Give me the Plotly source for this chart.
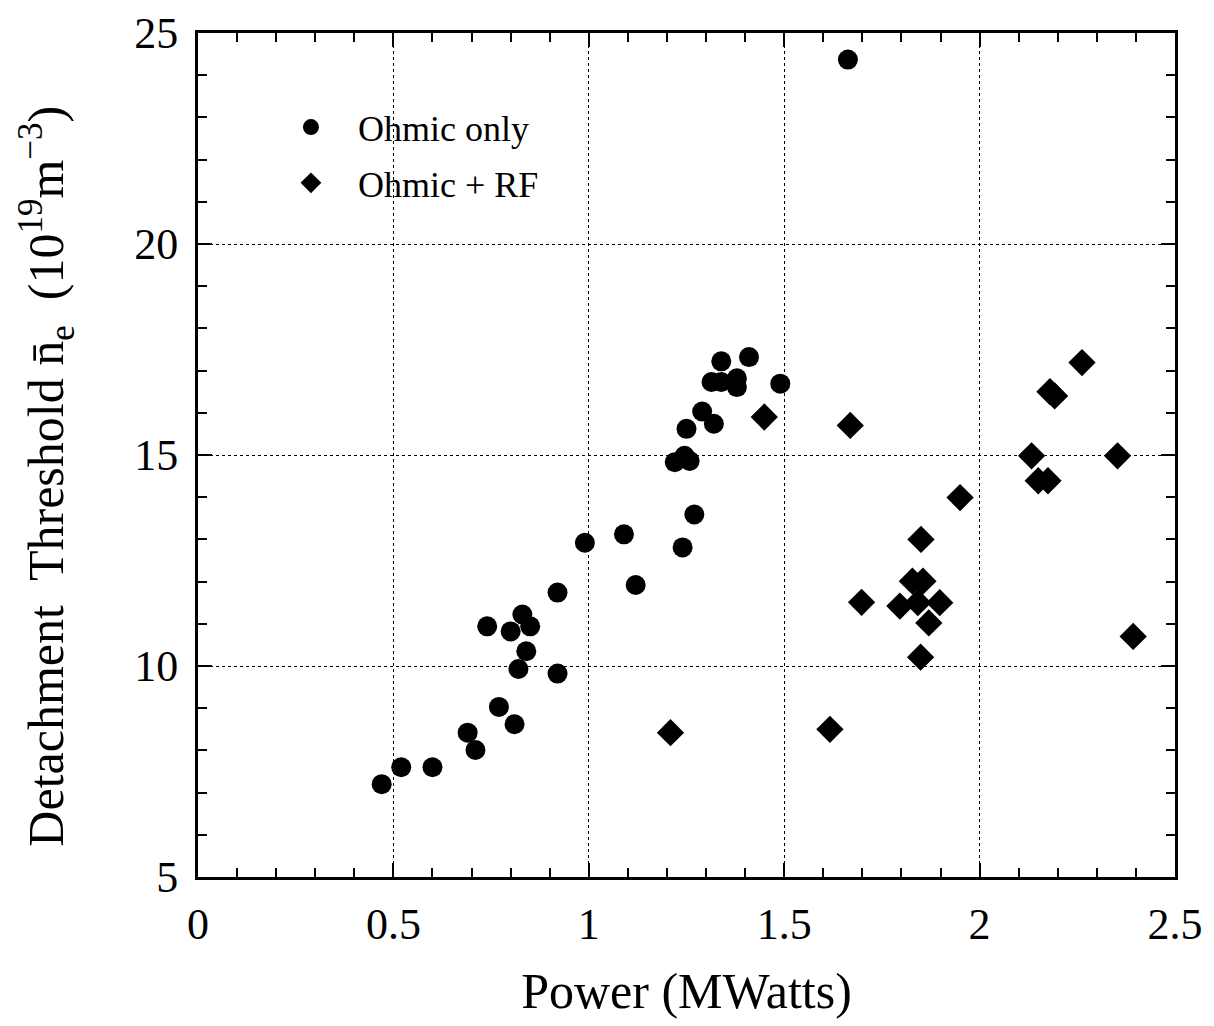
import plotly.graph_objects as go

# Ohmic only (circles)
ohmic_x = [0.47, 0.52, 0.60, 0.69, 0.71, 0.77, 0.81, 0.74, 0.80, 0.83, 0.85, 0.84,
           0.82, 0.92, 0.92, 0.99, 1.09, 1.12, 1.24, 1.27, 1.22, 1.245, 1.258, 1.25,
           1.29, 1.32, 1.314, 1.339, 1.339, 1.379, 1.379, 1.41, 1.49, 1.663]
ohmic_y = [7.20, 7.60, 7.60, 8.42, 8.01, 9.03, 8.62, 10.94, 10.82, 11.22, 10.94, 10.35,
           9.93, 9.82, 11.74, 12.92, 13.12, 11.92, 12.81, 13.59, 14.83, 14.98, 14.86, 15.62,
           16.03, 15.74, 16.73, 16.73, 17.22, 16.82, 16.61, 17.32, 16.69, 24.37]

# Ohmic + RF (diamonds)
rf_x = [1.209, 1.617, 1.449, 1.669, 1.698, 1.796, 1.828, 1.855, 1.842, 1.898, 1.870,
        1.849, 1.850, 1.950, 2.133, 2.150, 2.175, 2.180, 2.192, 2.262, 2.353, 2.393]
rf_y = [8.42, 8.50, 15.90, 15.70, 11.51, 11.42, 12.01, 12.01, 11.50, 11.50, 11.02,
        10.21, 13.00, 13.99, 14.98, 14.39, 14.39, 16.50, 16.40, 17.19, 14.98, 10.70]

x_ticks = [0, 0.5, 1, 1.5, 2, 2.5]
x_tick_labels = ["0", "0.5", "1", "1.5", "2", "2.5"]
y_ticks = [5, 10, 15, 20, 25]
y_tick_labels = ["5", "10", "15", "20", "25"]

x_title = "Power (MWatts)"
y_title = "Detachment  Threshold n\u0304<sub>e</sub>  (10<sup>19</sup>m<sup>\u22123</sup>)"

FONT = "Liberation Serif"

fig = go.Figure()
fig.add_trace(go.Scatter(
    x=ohmic_x, y=ohmic_y, mode="markers", name="Ohmic only", legendgroup="ohmic",
    marker=dict(symbol="circle", size=20, color="black", line=dict(width=0)),
))
fig.add_trace(go.Scatter(
    x=rf_x, y=rf_y, mode="markers", name="Ohmic + RF", legendgroup="rf",
    marker=dict(symbol="diamond", size=21, color="black", line=dict(width=0)),
))

axis_common = dict(
    showline=True, linecolor="black", linewidth=3, mirror="allticks",
    ticks="inside", ticklen=14, tickwidth=2, tickcolor="black",
    showgrid=True, gridcolor="black", gridwidth=1, griddash="dot",
    zeroline=False, automargin=False,
    tickfont=dict(family=FONT, size=44, color="black"),
)

fig.update_xaxes(
    **axis_common,
    range=[0, 2.5], tickmode="array", tickvals=x_ticks, ticktext=x_tick_labels,
    minor=dict(dtick=0.1, ticks="inside", ticklen=9, tickwidth=2, tickcolor="black", showgrid=False),
    title=dict(text=x_title, font=dict(family=FONT, size=50, color="black"), standoff=26),
    ticklabelstandoff=6,
)
fig.update_yaxes(
    **axis_common,
    range=[5, 25], tickmode="array", tickvals=y_ticks, ticktext=y_tick_labels,
    minor=dict(dtick=1, ticks="inside", ticklen=9, tickwidth=2, tickcolor="black", showgrid=False),
    ticklabelstandoff=8,
)

fig.add_annotation(
    text=y_title, textangle=-90, showarrow=False,
    xref="paper", yref="paper", x=-0.155, y=0.475, xanchor="center", yanchor="middle",
    font=dict(family=FONT, size=50, color="black"),
)

fig.update_layout(
    width=1206, height=1018,
    margin=dict(l=190, r=39, t=25, b=149, autoexpand=False),
    plot_bgcolor="white", paper_bgcolor="white",
    font=dict(family=FONT, color="black"),
    showlegend=True,
    legend=dict(
        x=0.0675, y=0.924, xanchor="left", yanchor="top",
        bgcolor="rgba(0,0,0,0)", borderwidth=0,
        font=dict(family=FONT, size=36, color="black"),
        itemwidth=84, tracegroupgap=6, traceorder="grouped",
    ),
)

fig.write_html("out.html")
